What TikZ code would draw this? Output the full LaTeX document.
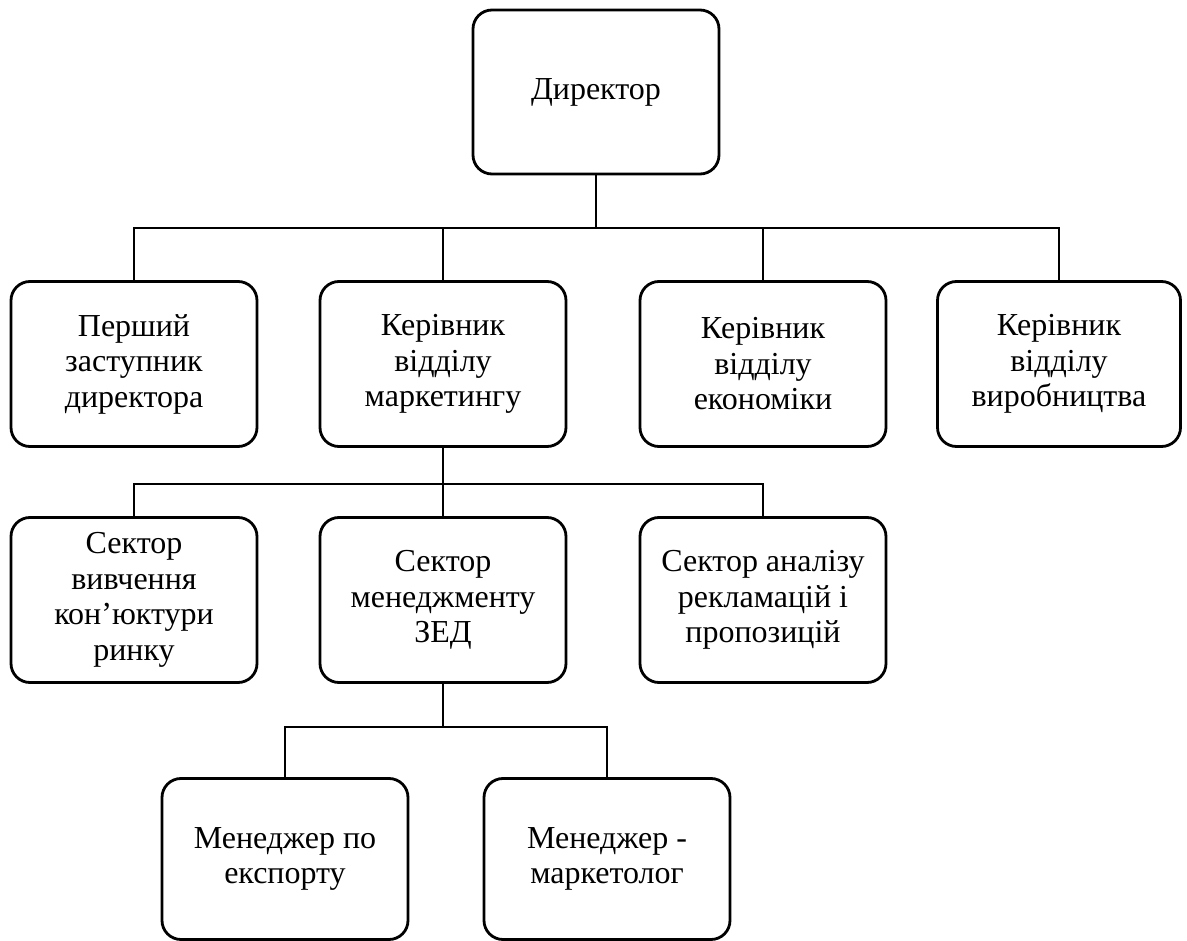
\documentclass[tikz,border=0pt]{standalone}
\usepackage{fontspec}
\setmainfont{Liberation Serif}
\begin{document}
\begin{tikzpicture}[x=1pt,y=-1pt,
  box/.style={draw, line width=2.8pt, rounded corners=19pt, minimum width=246pt,
    minimum height=165pt, align=center, inner sep=4pt,
    font=\fontsize{32}{35.5}\selectfont},
  link/.style={line width=2.6pt}]
\useasboundingbox (0,0) rectangle (1187,941);
\node[box, minimum height=164pt] (dir) at (596,92) {Директор};
\node[box] (first) at (134,364) {Перший\\заступник\\директора};
\node[box] (mkt) at (443,364) {Керівник\\відділу\\маркетингу};
\node[box] (eco) at (763,364) {Керівник\\відділу\\економіки};
\node[box, minimum width=243pt] (prod) at (1059,364) {Керівник\\відділу\\виробництва};
\node[box] (sv) at (134,600) {Сектор\\вивчення\\кон’юктури\\ринку};
\node[box] (zed) at (443,600) {Сектор\\менеджменту\\ЗЕД};
\node[box] (an) at (763,600) {Сектор аналізу\\рекламацій і\\пропозицій};
\node[box, minimum height=161pt] (me) at (285,859) {Менеджер по\\експорту};
\node[box, minimum height=161pt] (mm) at (607,859) {Менеджер -\\маркетолог};
\coordinate (j1) at (596,228);
\coordinate (j2) at (443,484);
\coordinate (j3) at (443,727);
\draw[link] (dir.south) -- (j1);
\draw[link] (first.north) -- (first.north |- j1) -- (prod.north |- j1) -- (prod.north);
\draw[link] (mkt.north) -- (mkt.north |- j1);
\draw[link] (eco.north) -- (eco.north |- j1);
\draw[link] (mkt.south) -- (j2);
\draw[link] (sv.north) -- (sv.north |- j2) -- (an.north |- j2) -- (an.north);
\draw[link] (zed.north) -- (zed.north |- j2);
\draw[link] (zed.south) -- (j3);
\draw[link] (me.north) -- (me.north |- j3) -- (mm.north |- j3) -- (mm.north);
\end{tikzpicture}
\end{document}
